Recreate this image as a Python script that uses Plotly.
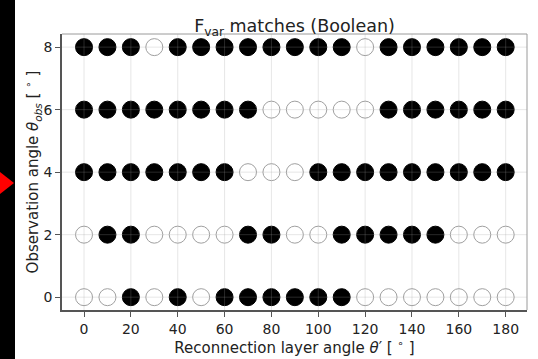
import plotly.graph_objects as go

# Reconnection layer angles (x) and observation angles (y)
theta_prime = [0, 10, 20, 30, 40, 50, 60, 70, 80, 90, 100, 110, 120, 130, 140, 150, 160, 170, 180]
theta_obs = [0, 2, 4, 6, 8]

# Boolean match of F_var for each (theta_obs, theta') pair: 1 = match, 0 = no match
match_obs0 = [0, 0, 1, 0, 1, 0, 1, 1, 1, 1, 1, 1, 0, 0, 0, 0, 0, 0, 0]
match_obs2 = [0, 1, 1, 0, 0, 0, 0, 1, 1, 0, 0, 1, 1, 1, 1, 1, 0, 0, 0]
match_obs4 = [1, 1, 1, 1, 1, 1, 1, 0, 0, 0, 1, 1, 1, 1, 1, 1, 1, 1, 1]
match_obs6 = [1, 1, 1, 1, 1, 1, 1, 1, 0, 0, 0, 0, 0, 1, 1, 1, 1, 1, 1]
match_obs8 = [1, 1, 1, 0, 1, 1, 1, 1, 1, 1, 1, 1, 0, 1, 1, 1, 1, 1, 1]
matches = [match_obs0, match_obs2, match_obs4, match_obs6, match_obs8]

x_ticks = [0, 20, 40, 60, 80, 100, 120, 140, 160, 180]
y_ticks = [0, 2, 4, 6, 8]

W, H = 538, 359
ML, MR, MT, MB = 62, 11, 34, 49
PW, PH = W - ML - MR, H - MT - MB

xs_true, ys_true, xs_false, ys_false = [], [], [], []
for obs, row in zip(theta_obs, matches):
    for tp, m in zip(theta_prime, row):
        if m:
            xs_true.append(tp)
            ys_true.append(obs)
        else:
            xs_false.append(tp)
            ys_false.append(obs)

fig = go.Figure()
fig.add_trace(go.Scatter(
    x=xs_false, y=ys_false, mode="markers",
    marker=dict(size=17, color="white", line=dict(color="#a0a0a0", width=1)),
    hoverinfo="x+y", showlegend=False,
))
fig.add_trace(go.Scatter(
    x=xs_true, y=ys_true, mode="markers",
    marker=dict(size=17, color="black", line=dict(color="black", width=1)),
    hoverinfo="x+y", showlegend=False,
))

shapes = []
# translucent grid drawn over the markers
for xv in x_ticks:
    shapes.append(dict(type="line", xref="x", yref="y domain", x0=xv, x1=xv, y0=0, y1=1,
                       line=dict(color="rgba(160,160,160,0.25)", width=1), layer="above"))
for yv in y_ticks:
    shapes.append(dict(type="line", xref="x domain", yref="y", x0=0, x1=1, y0=yv, y1=yv,
                       line=dict(color="rgba(160,160,160,0.25)", width=1), layer="above"))
# light top and right frame edges
shapes.append(dict(type="line", xref="paper", yref="paper", x0=0, x1=1, y0=1, y1=1,
                   line=dict(color="#9a9a9a", width=1), layer="above"))
shapes.append(dict(type="line", xref="paper", yref="paper", x0=1, x1=1, y0=0, y1=1,
                   line=dict(color="#9a9a9a", width=1), layer="above"))


def px(xp):
    return (xp - ML) / PW


def py(yp):
    return (H - MB - yp) / PH


# dark band at the left edge with a red pointer
shapes.append(dict(type="rect", xref="paper", yref="paper",
                   x0=px(0), x1=px(15), y0=py(H), y1=py(0),
                   fillcolor="black", line=dict(width=0), layer="above"))
shapes.append(dict(type="path", xref="paper", yref="paper",
                   path=f"M {px(0)} {py(172)} L {px(14)} {py(183)} L {px(0)} {py(194)} Z",
                   fillcolor="#ff0000", line=dict(width=0), layer="above"))

fig.update_layout(
    width=W, height=H,
    margin=dict(l=ML, r=MR, t=MT, b=MB),
    paper_bgcolor="white", plot_bgcolor="white",
    font=dict(family="DejaVu Sans", size=14, color="#222"),
    title=dict(text="F<sub>var</sub> matches (Boolean)", x=0.5, xanchor="center",
               xref="paper", yref="paper", y=1, yanchor="bottom",
               pad=dict(b=2), font=dict(size=17.5, color="#222")),
    shapes=shapes,
    xaxis=dict(
        range=[-9.4, 189.1], tickvals=x_ticks, ticktext=[str(v) for v in x_ticks],
        showgrid=False, zeroline=False, showline=True, linecolor="#555", linewidth=1.5,
        ticks="outside", ticklen=5, tickcolor="#555", tickwidth=1,
        title=dict(text="Reconnection layer angle <i>θ</i>′ [ <sup>∘</sup> ]", standoff=0,
                   font=dict(size=15)),
        tickfont=dict(size=14),
    ),
    yaxis=dict(
        range=[-0.41, 8.42], tickvals=y_ticks, ticktext=[str(v) for v in y_ticks],
        showgrid=False, zeroline=False, showline=True, linecolor="#555", linewidth=1.5,
        ticks="outside", ticklen=5, tickcolor="#555", tickwidth=1,
        title=dict(text="Observation angle <i>θ<sub>obs</sub></i> [ <sup>∘</sup> ]", standoff=0,
                   font=dict(size=15)),
        tickfont=dict(size=14),
    ),
)

fig.write_html("out.html")
